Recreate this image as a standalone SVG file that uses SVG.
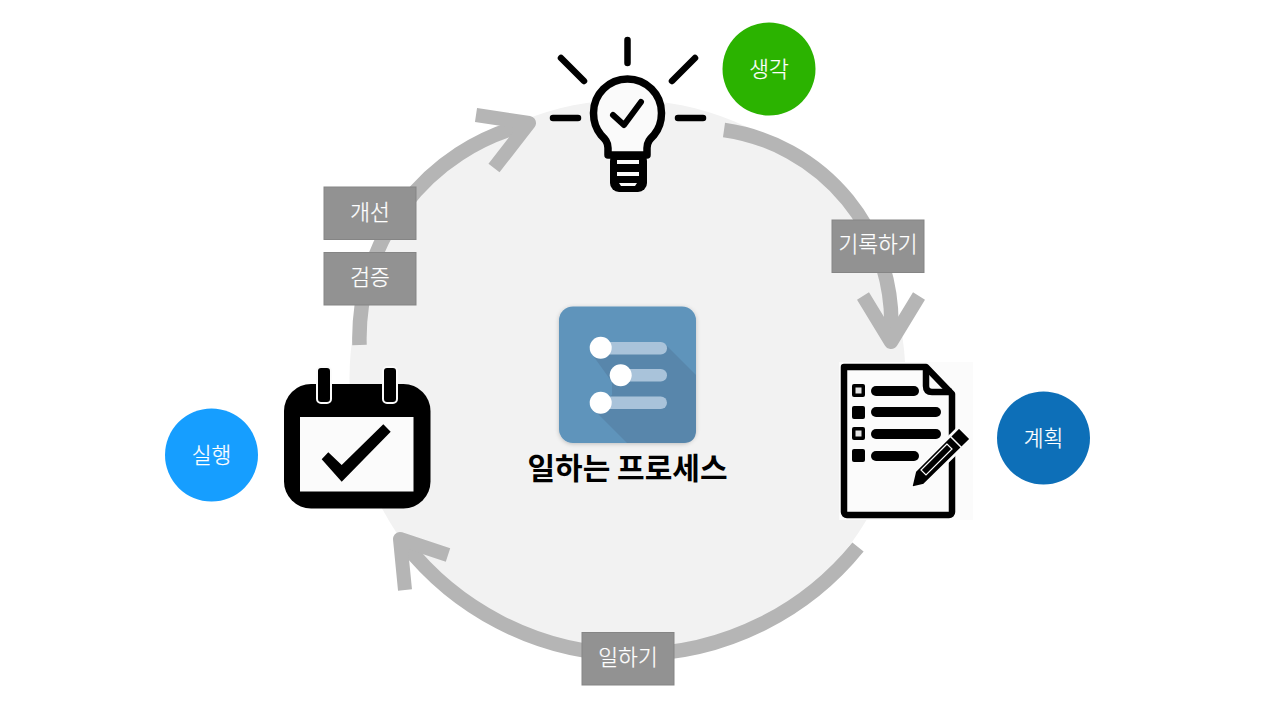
<svg xmlns="http://www.w3.org/2000/svg" width="1280" height="720" viewBox="0 0 1280 720">
<defs>
<filter id="soft" x="-10%" y="-10%" width="120%" height="120%"><feDropShadow dx="0" dy="1" stdDeviation="2" flood-color="#000" flood-opacity="0.22"/></filter>
</defs>
<style>
.arc{fill:none;stroke:#b5b5b5;stroke-width:14.500;stroke-linecap:butt}
.head{fill:none;stroke:#b5b5b5;stroke-width:14;stroke-linecap:butt;stroke-linejoin:round}
.box{fill:#929292;stroke:#858585;stroke-width:1}
.t{font-family:"Noto Sans CJK KR","Noto Sans",sans-serif;font-weight:300;fill:#fff;stroke:#fff;stroke-width:.25;font-size:21.500px;text-anchor:middle}
.ic{fill:none;stroke:#000;stroke-linecap:round;stroke-linejoin:round}
</style>
<rect width="1280" height="720" fill="#fff"/>
<circle id="bg" cx="627.500" cy="378" r="278" fill="#f2f2f2"/>
<g id="connectors">
<path class="arc" d="M724 130A195 195 0 0 1 891 335"/>
<path class="head" d="M863 296L891 342L919 296"/>
<path class="arc" d="M858 547A290 290 0 0 1 405 544"/>
<path class="head" d="M448 555L400 539L405 590"/>
<path class="arc" d="M359.500 345A220 220 0 0 1 525 125"/>
<path class="head" d="M476 115L529 123L494 168"/>
</g>
<g id="idea">
<circle cx="769" cy="69" r="46.500" fill="#2bb300"/>
<text class="t" x="769" y="77">생각</text>
<path class="ic" stroke-width="6.500" d="M627.500 40V63M561 58L584 81M695 58L672 81M553 118H578M678 118H703"/>
<path d="M608 155V148C608 142 605 139 601 135C596 129 593.500 122 593.500 113A34 34 0 0 1 661.500 113C661.500 122 659 129 654 135C650 139 647 142 647 148V155Z" fill="#fafafa" stroke="#000" stroke-width="7.500" stroke-linejoin="round"/>
<rect x="610" y="152" width="37" height="40" rx="9" fill="#000"/>
<path d="M617 160H639V164H617ZM617 172H639V176H617ZM619 183H637L635 186H621Z" fill="#fafafa"/>
<path class="ic" stroke-width="6" d="M613 115L624 125L641 102"/>
</g>
<g id="plan">
<rect x="839" y="362" width="134" height="158" fill="#fbfbfb"/>
<path d="M844 367H926L952 394V512A3 3 0 0 1 949 515H847A3 3 0 0 1 844 512Z" fill="#fbfbfb" stroke="#000" stroke-width="6.500" stroke-linejoin="round"/>
<path d="M926 367V386Q926 392 932 392H952" fill="none" stroke="#000" stroke-width="6.500" stroke-linejoin="round"/>
<g fill="#000">
<rect x="852" y="384" width="13" height="13" rx="2"/><rect x="852" y="406" width="13" height="13" rx="2"/><rect x="852" y="427" width="13" height="13" rx="2"/><rect x="852" y="449" width="13" height="13" rx="2"/>
<rect x="871" y="386" width="48" height="10" rx="5"/><rect x="871" y="407" width="70" height="10" rx="5"/><rect x="871" y="429" width="70" height="10" rx="5"/><rect x="871" y="451" width="48" height="10" rx="5"/>
</g>
<rect x="855.500" y="387.500" width="6" height="6" fill="#e4e4e4"/><rect x="855.500" y="430.500" width="6" height="6" fill="#e4e4e4"/>
<path d="M959 427L971 439L924 485L911 488L915 471Z" fill="#000" stroke="#fbfbfb" stroke-width="2.500" stroke-linejoin="round"/>
<path d="M949 435L963 449" stroke="#fbfbfb" stroke-width="1.500"/>
<path d="M947 444L921 470L926 475L952 449Z" fill="#000" stroke="#fbfbfb" stroke-width="1.200"/>
<circle cx="1043.500" cy="438" r="46.500" fill="#0d6fb8"/>
<text class="t" x="1043.500" y="446">계획</text>
</g>
<g id="do">
<rect x="284" y="384" width="146.500" height="124.500" rx="27" fill="#000"/>
<rect x="300" y="417" width="113.500" height="74.500" fill="#fbfbfb"/>
<rect x="317" y="367" width="14" height="36" rx="4" fill="#000" stroke="#fbfbfb" stroke-width="2"/>
<rect x="383" y="367" width="14" height="36" rx="4" fill="#000" stroke="#fbfbfb" stroke-width="2"/>
<path d="M321.700 459.300L328.300 452.300L341.700 465L383.300 424.300L390.700 431.700L341.700 481.700Z" fill="#000"/>
<circle cx="211.500" cy="455" r="46.500" fill="#169eff"/>
<text class="t" x="211.500" y="463">실행</text>
</g>
<g id="center">
<rect x="559" y="306.500" width="137" height="136.500" rx="14" fill="#5f94bb" filter="url(#soft)"/>
<path d="M665 344L696 375V430Q696 443 683 443H627L593 409L612 395L612 382L594 357L606 344Z" fill="#5886ab"/>
<g fill="#a9c3da">
<rect x="600" y="342" width="67" height="12.500" rx="6.250"/><rect x="621" y="369" width="46" height="12.500" rx="6.250"/><rect x="600" y="396.500" width="67" height="12.500" rx="6.250"/>
</g>
<g fill="#fff"><circle cx="600.700" cy="347.700" r="11"/><circle cx="620.700" cy="375.300" r="11"/><circle cx="600.700" cy="402.700" r="11"/></g>
<text x="627.500" y="479" font-family="'Noto Sans CJK KR',sans-serif" font-weight="700" font-size="30" text-anchor="middle" fill="#000">일하는 프로세스</text>
</g>
<g id="labels">
<g id="l1"><rect class="box" x="832" y="220" width="92" height="52.500"/><text class="t" x="878" y="252">기록하기</text></g>
<g id="l2"><rect class="box" x="582" y="632.500" width="92" height="52.500"/><text class="t" x="628" y="665">일하기</text></g>
<g id="l3"><rect class="box" x="324" y="187" width="92" height="52.500"/><text class="t" x="370" y="220">개선</text></g>
<g id="l4"><rect class="box" x="324" y="252.500" width="92" height="52.500"/><text class="t" x="370" y="285">검증</text></g>
</g>
</svg>
